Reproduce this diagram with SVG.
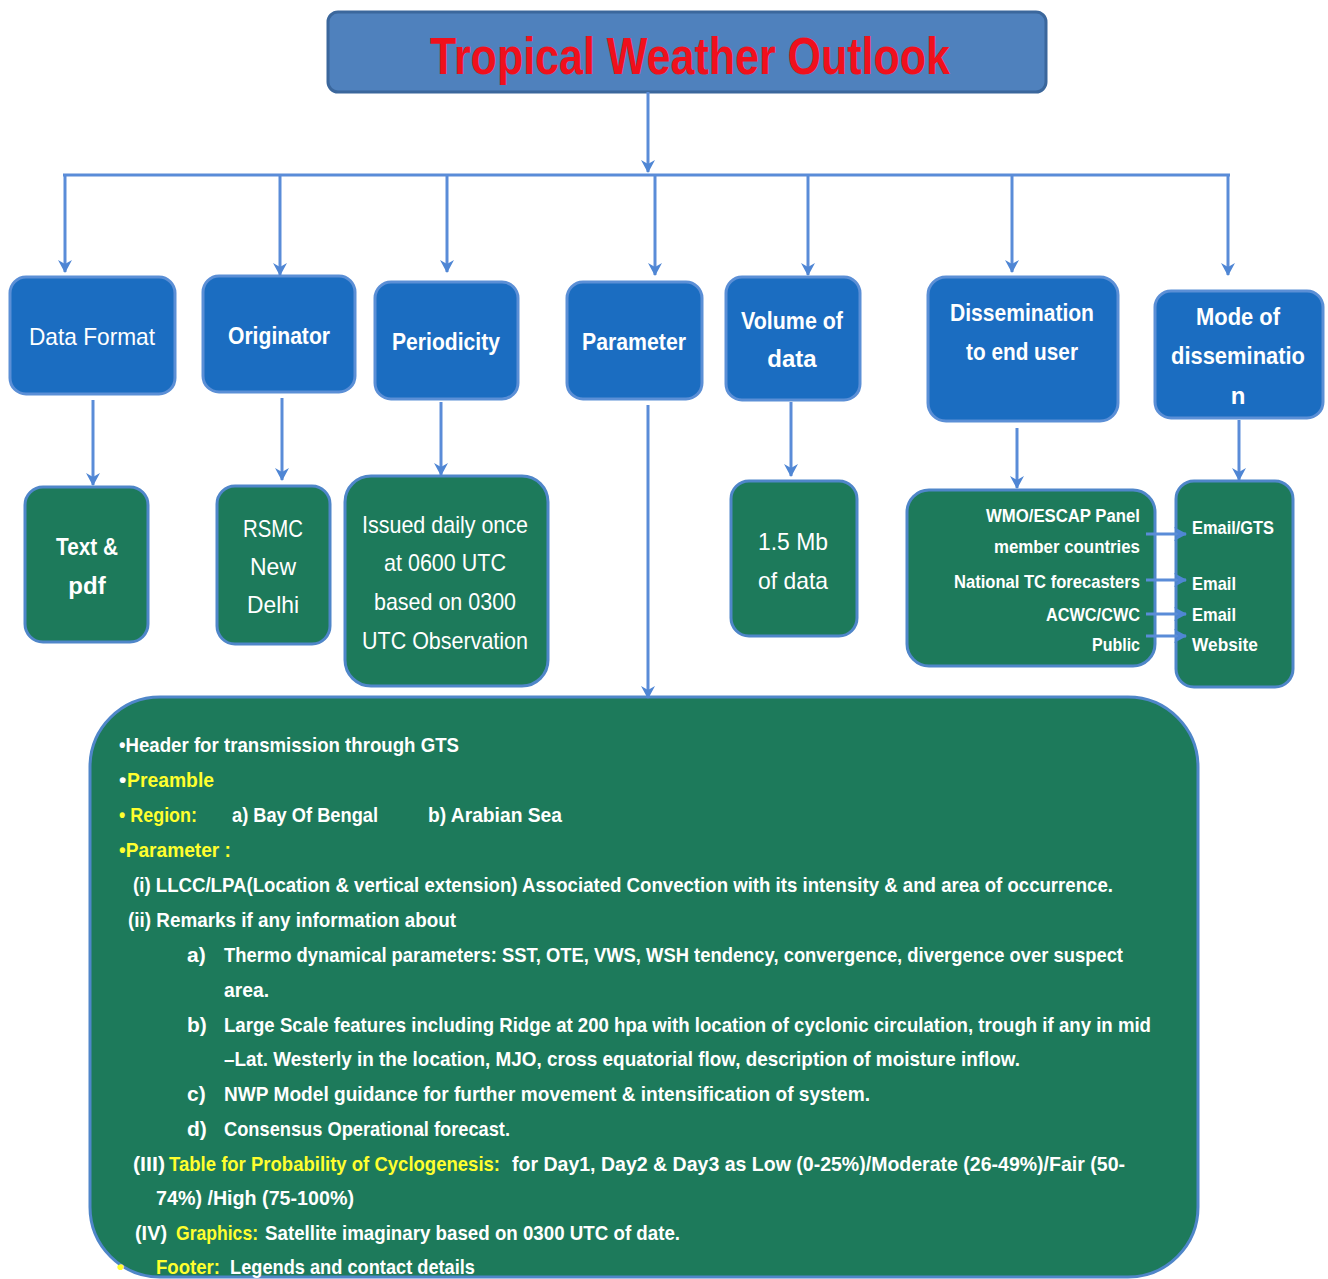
<svg xmlns="http://www.w3.org/2000/svg" width="1328" height="1279" viewBox="0 0 1328 1279">
<defs>
<marker id="ah" markerUnits="userSpaceOnUse" markerWidth="14" markerHeight="14" refX="12" refY="7" orient="auto">
<path d="M0,0 L13,7 L0,14 L4,7 Z" fill="#4f86d4"/>
</marker>
<style>
.con{stroke:#5a8cd8;stroke-width:3;fill:none}
.blue{fill:#1b6dc1;stroke:#5b8fd6;stroke-width:3}
.green{fill:#1d7a5b;stroke:#4f86c9;stroke-width:3}
.bt{font-family:"Liberation Sans",Arial,sans-serif;fill:#fff;font-size:24px;text-anchor:middle}
.b{font-weight:bold}
.gt{font-family:"Liberation Sans",Arial,sans-serif;fill:#fff;font-size:24px;text-anchor:middle}
.lt{font-family:"Liberation Sans",Arial,sans-serif;fill:#fff;font-size:19px;font-weight:bold}
.tx{font-family:"Liberation Sans",Arial,sans-serif;fill:#fff;font-size:21px;font-weight:bold}
.y{fill:#ffff2e}
</style>
</defs>
<rect width="1328" height="1279" fill="#fff"/>

<g id="title">
<rect x="328" y="12" width="718" height="80" rx="10" fill="#4f81bd" stroke="#3b679c" stroke-width="3"/>
<text x="690" y="74" font-family="Liberation Sans,Arial,sans-serif" font-size="52" font-weight="bold" fill="#f0101c" text-anchor="middle" textLength="520" lengthAdjust="spacingAndGlyphs">Tropical Weather Outlook</text>
</g>

<g id="data-format">
<rect class="blue" x="10" y="277" width="165" height="117" rx="16"/>
<text class="bt" x="92" y="345" textLength="126" lengthAdjust="spacingAndGlyphs">Data  Format</text>
</g>
<g id="originator">
<rect class="blue" x="203" y="276" width="152" height="116" rx="16"/>
<text class="bt b" x="279" y="344" textLength="102" lengthAdjust="spacingAndGlyphs">Originator</text>
</g>
<g id="periodicity">
<rect class="blue" x="375" y="282" width="143" height="117" rx="16"/>
<text class="bt b" x="446" y="350" textLength="108" lengthAdjust="spacingAndGlyphs">Periodicity</text>
</g>
<g id="parameter">
<rect class="blue" x="567" y="282" width="135" height="117" rx="16"/>
<text class="bt b" x="634" y="350" textLength="104" lengthAdjust="spacingAndGlyphs">Parameter</text>
</g>
<g id="volume">
<rect class="blue" x="726" y="277" width="134" height="123" rx="16"/>
<text class="bt b" x="792" y="329" textLength="102" lengthAdjust="spacingAndGlyphs">Volume of</text>
<text class="bt b" x="792" y="367">data</text>
</g>
<g id="dissemination">
<rect class="blue" x="928" y="277" width="190" height="144" rx="18"/>
<text class="bt b" x="1022" y="321" textLength="144" lengthAdjust="spacingAndGlyphs">Dissemination</text>
<text class="bt b" x="1022" y="360" textLength="112" lengthAdjust="spacingAndGlyphs">to end user</text>
</g>
<g id="mode">
<rect class="blue" x="1155" y="291" width="168" height="127" rx="16"/>
<text class="bt b" x="1238" y="325" textLength="84" lengthAdjust="spacingAndGlyphs">Mode of</text>
<text class="bt b" x="1238" y="364" textLength="134" lengthAdjust="spacingAndGlyphs">disseminatio</text>
<text class="bt b" x="1238" y="404">n</text>
</g>

<g id="text-pdf">
<rect class="green" x="25" y="487" width="123" height="155" rx="18"/>
<text class="gt b" x="87" y="555" textLength="62" lengthAdjust="spacingAndGlyphs">Text &amp;</text>
<text class="gt b" x="87" y="594">pdf</text>
</g>
<g id="rsmc">
<rect class="green" x="217" y="486" width="113" height="158" rx="18"/>
<text class="gt" x="273" y="537" textLength="60" lengthAdjust="spacingAndGlyphs">RSMC</text>
<text class="gt" x="273" y="575" textLength="46" lengthAdjust="spacingAndGlyphs">New</text>
<text class="gt" x="273" y="613" textLength="52" lengthAdjust="spacingAndGlyphs">Delhi</text>
</g>
<g id="issued">
<rect class="green" x="345" y="476" width="203" height="210" rx="26"/>
<text class="gt" x="445" y="533" textLength="166" lengthAdjust="spacingAndGlyphs">Issued daily once</text>
<text class="gt" x="445" y="571" textLength="122" lengthAdjust="spacingAndGlyphs">at 0600 UTC</text>
<text class="gt" x="445" y="610" textLength="142" lengthAdjust="spacingAndGlyphs">based on 0300</text>
<text class="gt" x="445" y="649" textLength="166" lengthAdjust="spacingAndGlyphs">UTC Observation</text>
</g>
<g id="volume-value">
<rect class="green" x="731" y="481" width="126" height="155" rx="18"/>
<text class="gt" x="793" y="550" textLength="70" lengthAdjust="spacingAndGlyphs">1.5 Mb</text>
<text class="gt" x="793" y="589" textLength="70" lengthAdjust="spacingAndGlyphs">of data</text>
</g>
<g id="users">
<rect class="green" x="907" y="490" width="248" height="176" rx="22"/>
<text class="lt" x="1140" y="522" text-anchor="end" textLength="154" lengthAdjust="spacingAndGlyphs">WMO/ESCAP Panel</text>
<text class="lt" x="1140" y="553" text-anchor="end" textLength="146" lengthAdjust="spacingAndGlyphs">member countries</text>
<text class="lt" x="1140" y="588" text-anchor="end" textLength="186" lengthAdjust="spacingAndGlyphs">National TC forecasters</text>
<text class="lt" x="1140" y="621" text-anchor="end" textLength="94" lengthAdjust="spacingAndGlyphs">ACWC/CWC</text>
<text class="lt" x="1140" y="651" text-anchor="end" textLength="48" lengthAdjust="spacingAndGlyphs">Public</text>
</g>
<g id="modes">
<rect class="green" x="1176" y="481" width="117" height="206" rx="18"/>
<text class="lt" x="1192" y="534" textLength="82" lengthAdjust="spacingAndGlyphs">Email/GTS</text>
<text class="lt" x="1192" y="590" textLength="44" lengthAdjust="spacingAndGlyphs">Email</text>
<text class="lt" x="1192" y="621" textLength="44" lengthAdjust="spacingAndGlyphs">Email</text>
<text class="lt" x="1192" y="651" textLength="66" lengthAdjust="spacingAndGlyphs">Website</text>
</g>

<g id="parameter-details">
<rect class="green" x="90" y="697" width="1108" height="580" rx="70"/>
<text class="tx" x="119" y="752" textLength="340" lengthAdjust="spacingAndGlyphs">•Header for transmission  through GTS</text>
<text class="tx" x="119" y="787">•</text>
<text class="tx y" x="127" y="787" textLength="87" lengthAdjust="spacingAndGlyphs">Preamble</text>
<text class="tx y" x="119" y="822" textLength="78" lengthAdjust="spacingAndGlyphs">• Region:</text>
<text class="tx" x="232" y="822" textLength="146" lengthAdjust="spacingAndGlyphs">a) Bay Of Bengal</text>
<text class="tx" x="428" y="822" textLength="134" lengthAdjust="spacingAndGlyphs">b)  Arabian Sea</text>
<text class="tx y" x="119" y="857" textLength="112" lengthAdjust="spacingAndGlyphs">•Parameter :</text>
<text class="tx" x="133" y="892" textLength="980" lengthAdjust="spacingAndGlyphs">(i)  LLCC/LPA(Location &amp; vertical extension) Associated  Convection with its intensity &amp; and area of occurrence.</text>
<text class="tx" x="128" y="927" textLength="328" lengthAdjust="spacingAndGlyphs">(ii) Remarks if any information  about</text>
<text class="tx" x="187" y="962">a)</text>
<text class="tx" x="224" y="962" textLength="899" lengthAdjust="spacingAndGlyphs">Thermo dynamical  parameters: SST, OTE, VWS, WSH tendency, convergence, divergence over suspect</text>
<text class="tx" x="224" y="997" textLength="45" lengthAdjust="spacingAndGlyphs">area.</text>
<text class="tx" x="187" y="1032">b)</text>
<text class="tx" x="224" y="1032" textLength="927" lengthAdjust="spacingAndGlyphs">Large Scale features including  Ridge at 200 hpa with location of  cyclonic circulation, trough if any in mid</text>
<text class="tx" x="224" y="1066" textLength="796" lengthAdjust="spacingAndGlyphs">–Lat. Westerly in the location, MJO, cross equatorial flow, description  of moisture  inflow.</text>
<text class="tx" x="187" y="1101">c)</text>
<text class="tx" x="224" y="1101" textLength="646" lengthAdjust="spacingAndGlyphs">NWP Model guidance  for further movement  &amp; intensification  of system.</text>
<text class="tx" x="187" y="1136">d)</text>
<text class="tx" x="224" y="1136" textLength="286" lengthAdjust="spacingAndGlyphs">Consensus  Operational  forecast.</text>
<text class="tx" x="133" y="1171" textLength="32" lengthAdjust="spacingAndGlyphs">(III)</text>
<text class="tx y" x="169" y="1171" textLength="331" lengthAdjust="spacingAndGlyphs">Table for Probability  of  Cyclogenesis:</text>
<text class="tx" x="512" y="1171" textLength="613" lengthAdjust="spacingAndGlyphs">for  Day1, Day2 &amp; Day3 as Low (0-25%)/Moderate (26-49%)/Fair (50-</text>
<text class="tx" x="156" y="1205" textLength="198" lengthAdjust="spacingAndGlyphs">74%) /High  (75-100%)</text>
<text class="tx" x="135" y="1240" textLength="32" lengthAdjust="spacingAndGlyphs">(IV)</text>
<text class="tx y" x="176" y="1240" textLength="82" lengthAdjust="spacingAndGlyphs">Graphics:</text>
<text class="tx" x="265" y="1240" textLength="415" lengthAdjust="spacingAndGlyphs">Satellite imaginary based on 0300 UTC of date.</text>
<text class="tx y" x="117" y="1274">•</text>
<text class="tx y" x="156" y="1274" textLength="64" lengthAdjust="spacingAndGlyphs">Footer:</text>
<text class="tx" x="230" y="1274" textLength="245" lengthAdjust="spacingAndGlyphs">Legends and contact details</text>
</g>

<g id="connectors">
<path class="con" d="M648,92 V172" marker-end="url(#ah)"/>
<path class="con" d="M63,175 H1230"/>
<path class="con" d="M65,175 V272" marker-end="url(#ah)"/>
<path class="con" d="M280,175 V275" marker-end="url(#ah)"/>
<path class="con" d="M447,175 V272" marker-end="url(#ah)"/>
<path class="con" d="M655,175 V275" marker-end="url(#ah)"/>
<path class="con" d="M808,175 V275" marker-end="url(#ah)"/>
<path class="con" d="M1012,175 V272" marker-end="url(#ah)"/>
<path class="con" d="M1228,175 V275" marker-end="url(#ah)"/>
<path class="con" d="M93,400 V485" marker-end="url(#ah)"/>
<path class="con" d="M282,398 V480" marker-end="url(#ah)"/>
<path class="con" d="M441,402 V475" marker-end="url(#ah)"/>
<path class="con" d="M648,405 V698" marker-end="url(#ah)"/>
<path class="con" d="M791,402 V476" marker-end="url(#ah)"/>
<path class="con" d="M1017,428 V488" marker-end="url(#ah)"/>
<path class="con" d="M1239,420 V480" marker-end="url(#ah)"/>
<path class="con" d="M1146,534 H1186" marker-end="url(#ah)"/>
<path class="con" d="M1146,580 H1186" marker-end="url(#ah)"/>
<path class="con" d="M1146,614 H1186" marker-end="url(#ah)"/>
<path class="con" d="M1146,636 H1186" marker-end="url(#ah)"/>
</g>
</svg>
